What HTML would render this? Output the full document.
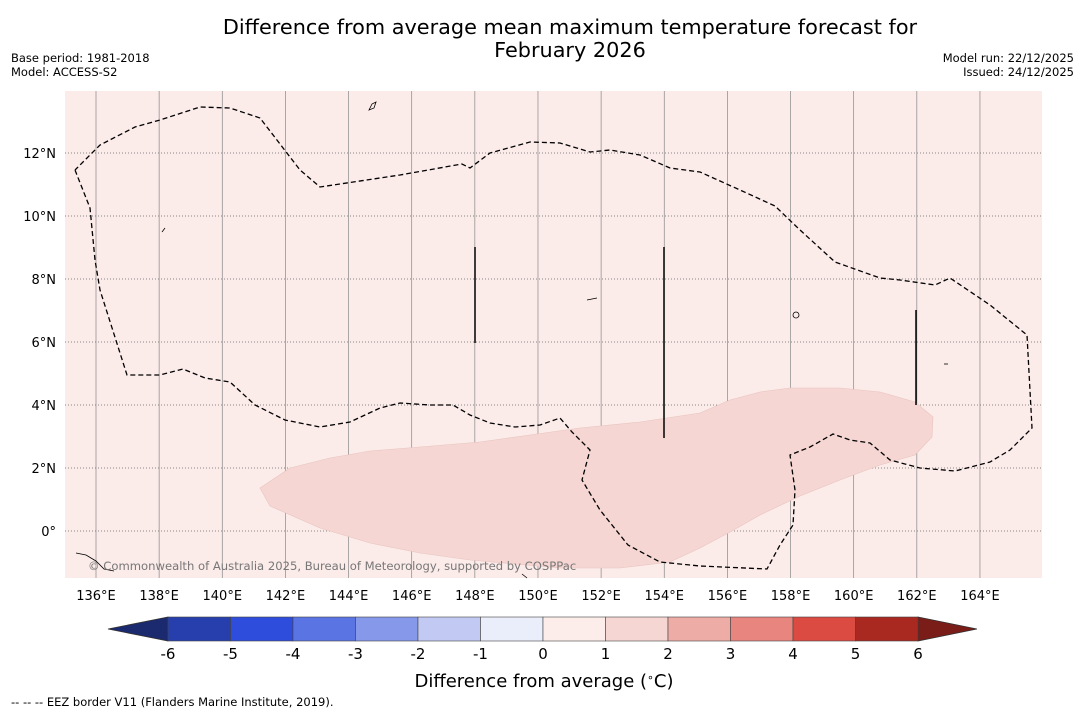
<!DOCTYPE html>
<html><head><meta charset="utf-8"><style>
body{margin:0;background:#fff;width:1085px;height:713px;overflow:hidden;font-family:"Liberation Sans","DejaVu Sans",sans-serif;}
svg{display:block}
</style></head><body>
<svg id="c" width="1085" height="713" font-family="DejaVu Sans, Liberation Sans, sans-serif">
<text x="570" y="34" text-anchor="middle" font-size="20.8">Difference from average mean maximum temperature forecast for</text>
<text x="570" y="57" text-anchor="middle" font-size="20.8">February 2026</text>
<text x="11" y="62" font-size="11.5">Base period: 1981-2018</text>
<text x="11" y="76" font-size="11.5">Model: ACCESS-S2</text>
<text x="1074" y="62" font-size="11.5" text-anchor="end">Model run: 22/12/2025</text>
<text x="1074" y="76" font-size="11.5" text-anchor="end">Issued: 24/12/2025</text>
<rect x="65" y="91" width="977" height="487" fill="#fbebe9"/>
<g id="grid"></g>
<polygon fill="#f5d6d3" stroke="#e8c4c0" stroke-width="0.6" points="260,488 290,468 330,458 370,451 420,447 480,442 530,435 580,428 640,422 700,413 730,400 760,392 790,388 840,388 880,392 915,402 933,417 932,437 915,455 880,465 840,480 800,496 760,515 730,532 700,548 670,562 620,568 560,568 470,560 420,553 370,543 320,528 270,506"/>
<polyline fill="none" stroke="#000" stroke-width="1.3" stroke-dasharray="5,3" points="75,170 90,208 95,260 100,290 127,375 160,375 183,369 205,378 230,382 255,405 285,420 320,427 350,422 380,408 400,403 430,405 453,405 470,415 490,423 515,427 540,425 560,418 572,432 590,450 582,480 600,510 628,545 660,562 700,566 767,569 780,545 793,525 795,490 790,455 810,447 833,434 850,440 870,443 890,460 920,468 955,471 990,462 1010,450 1032,428 1027,335 990,305 950,278 935,285 900,280 880,278 835,262 800,230 775,206 740,190 700,172 670,168 640,155 610,150 590,152 560,143 530,142 490,153 470,168 462,164 400,175 320,187 300,170 260,118 230,108 200,107 160,120 135,127 100,145 75,170"/>
<g stroke="#000" stroke-width="1.5">
<line x1="475" y1="247" x2="475" y2="343"/><line x1="664" y1="247" x2="664" y2="438"/><line x1="916" y1="310" x2="916" y2="405"/>
</g>
<g fill="none" stroke="#000" stroke-width="0.8">
<path d="M369,110 l3,-6 l4,-2 l-2,6 z"/><path d="M162,232 l3,-4"/><path d="M587,300 l10,-2"/><path d="M793,315 a3,3 0 1,0 6,0 a3,3 0 1,0 -6,0"/><path d="M944,364 l4,0"/><path d="M76,553 l10,2 l10,6 l8,8 l10,2"/><path d="M522,574 l5,4"/>
</g>
<text x="88" y="570" font-size="11.6" fill="#777">© Commonwealth of Australia 2025, Bureau of Meteorology, supported by COSPPac</text>
<g id="ticks"></g>
<g id="cbar"></g>
<text x="544" y="687" text-anchor="middle" font-size="18">Difference from average (<tspan font-size="11" dy="-6">∘</tspan><tspan dy="6">C)</tspan></text>
<text x="11" y="706" font-size="11.5">--  --  -- EEZ border V11 (Flanders Marine Institute, 2019).</text>
</svg>
<script>
const lonTicks=[136,138,140,142,144,146,148,150,152,154,156,158,160,162,164];
const latTicks=[0,2,4,6,8,10,12];
const cbarValues=[-6,-5,-4,-3,-2,-1,0,1,2,3,4,5,6];
const cbarColors=["#273fad","#2e4ddd","#5a75e3","#8698ea","#c2caf3","#eaedfa","#fcedeb","#f5d6d3","#eeaca6","#e8857e","#db4b42","#a9281f"];
const NS="http://www.w3.org/2000/svg";
const X=l=>96+(l-136)*31.57, Y=l=>531-l*31.5;
const CX=v=>543+v*62.5;
function mk(t,a,p){const e=document.createElementNS(NS,t);for(const k in a)e.setAttribute(k,a[k]);p.appendChild(e);return e;}
const g=document.getElementById('grid'),tk=document.getElementById('ticks'),cb=document.getElementById('cbar');
lonTicks.forEach(l=>{
 const ln=mk('line',{x1:X(l),x2:X(l),y1:91,y2:578,stroke:'#888','stroke-width':0.7},g);
 
 
 const t=mk('text',{x:X(l),y:600,'text-anchor':'middle','font-size':13},tk);t.textContent=l+'°E';
 
 
});
latTicks.forEach(l=>{
 const ln=mk('line',{x1:65,x2:1042,y1:Y(l),y2:Y(l),stroke:'#666','stroke-width':0.8,'stroke-dasharray':'1,2'},g);
 
 
 const t=mk('text',{x:56,y:Y(l)+5,'text-anchor':'end','font-size':13},tk);t.textContent=l===0?'0°':l+'°N';
 
 
});
const y0=617,y1=641;
const lt=mk('polygon',{points:`${CX(-6)},${y0} 108,${(y0+y1)/2} ${CX(-6)},${y1}`,fill:'#1b2a6e',stroke:'#333','stroke-width':0.8},cb);


const rt=mk('polygon',{points:`${CX(6)},${y0} 977,${(y0+y1)/2} ${CX(6)},${y1}`,fill:'#7a1c17',stroke:'#333','stroke-width':0.8},cb);


cbarColors.forEach((c,i)=>{
 const r=mk('rect',{x:CX(cbarValues[i]),y:y0,width:CX(cbarValues[i+1])-CX(cbarValues[i]),height:y1-y0,fill:c,stroke:'#444','stroke-width':0.6},cb);
 
 
});
cbarValues.forEach(v=>{
 const t=mk('text',{x:CX(v),y:659,'text-anchor':'middle','font-size':15},cb);t.textContent=v;
 
 
});
</script>
</body></html>
